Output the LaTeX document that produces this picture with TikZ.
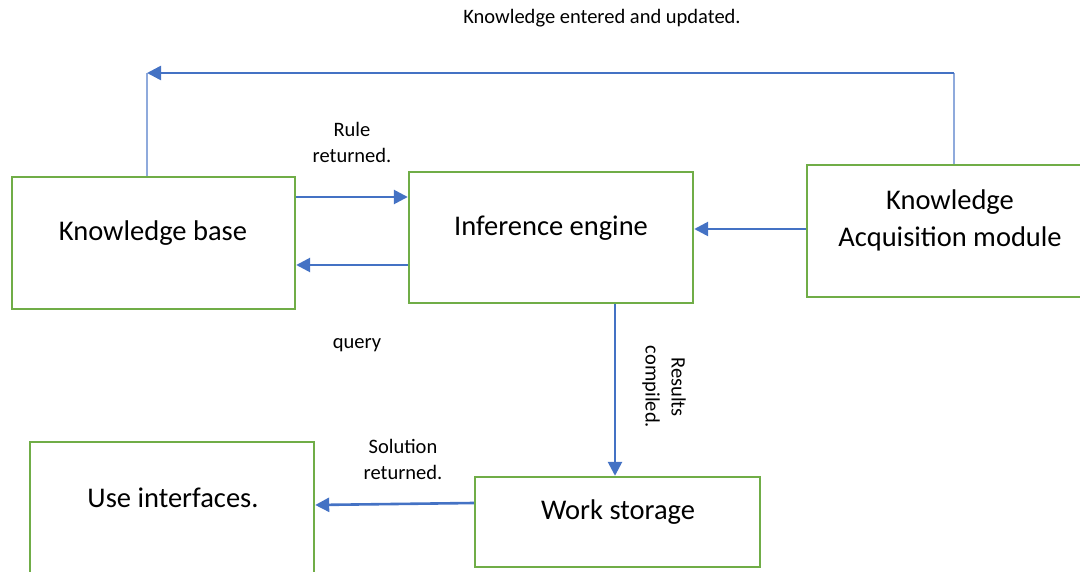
\documentclass[tikz,border=0pt]{standalone}
\usepackage{fontspec}
\setmainfont{Carlito}
\usetikzlibrary{arrows.meta}
\definecolor{boxgreen}{HTML}{70AD47}
\definecolor{arrblue}{HTML}{4472C4}
\definecolor{thinblue}{HTML}{8FAADC}
\tikzset{
  box/.style={draw=boxgreen, line width=2.4pt, inner sep=0pt, fill=none},
  big/.style={font=\fontsize{28.5}{37}\selectfont, inner sep=0pt, align=center},
  small/.style={font=\fontsize{20.5}{26}\selectfont, inner sep=0pt, align=center},
  arr/.style={draw=arrblue, line width=2.6pt, -{Triangle[length=14pt,width=14pt]}},
  thin/.style={draw=thinblue, line width=1.4pt},
}
\begin{document}
\begin{tikzpicture}[x=1pt,y=-1pt]
\useasboundingbox (0,0) rectangle (1080,572);
% boxes
\node[box, minimum width=283pt, minimum height=132pt] (kb) at (153.5,243) {};
\node[box, minimum width=284pt, minimum height=131pt] (ie) at (551,237.5) {};
\node[box, minimum width=280pt, minimum height=132pt] (ka) at (947,231) {};
\node[box, minimum width=284pt, minimum height=160pt] (ui) at (172,522) {};
\node[box, minimum width=285pt, minimum height=90pt] (ws) at (617.5,522) {};
% box texts
\node[big] (kbt) at (153,233) {Knowledge base};
\node[big] (iet) at (551,228) {Inference engine};
\node[big] (kat) at (950,220) {Knowledge\\Acquisition module};
\node[big] (uit) at (173,498) {Use interfaces.};
\node[big] (wst) at (618,512) {Work storage};
% labels
\node[small] (l1) at (602,18) {Knowledge entered and updated.};
\node[small] (l2) at (352,142) {Rule\\returned.};
\node[small] (l3) at (357,345) {query};
\node[small] (l4) at (403,459) {Solution\\returned.};
\node[small, rotate=-90] (l5) at (664,387) {Results\\compiled.};
% connectors
\coordinate (tl) at (147,73);
\coordinate (tr) at (954,73);
\draw[thin] (kb.north -| tl) -- (tl);
\draw[thin] (ka.north -| tr) -- (tr);
\draw[arr] (tr) -- (tl);
\draw[arr] (kb.east |- 0,197) -- (ie.west |- 0,197);
\draw[arr] (ie.west |- 0,265) -- (kb.east |- 0,265);
\draw[arr] (ka.west |- 0,229) -- (ie.east |- 0,229);
\draw[arr] (ie.south -| 615,0) -- (ws.north -| 615,0);
\draw[arr] (ws.west |- 0,503) -- (ui.east |- 0,505);
\end{tikzpicture}
\end{document}
